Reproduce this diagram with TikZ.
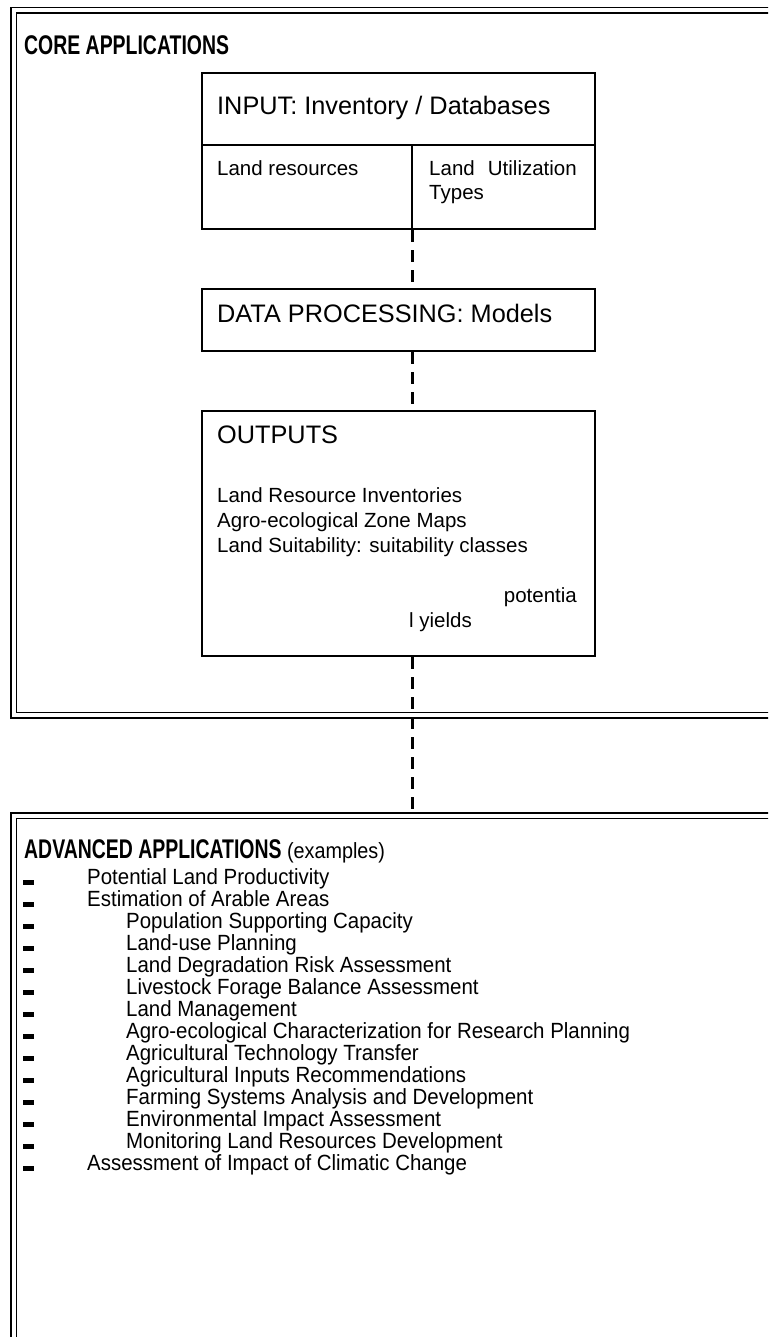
\documentclass[tikz,border=0pt]{standalone}
\usepackage{fontspec}
\setmainfont{Liberation Sans}
\newfontfamily\narrowsans[FakeStretch=0.72]{Liberation Sans}
\newfontfamily\listsans[FakeStretch=0.93]{Liberation Sans}
\newfontfamily\exsans[FakeStretch=0.9]{Liberation Sans}
\usetikzlibrary{calc}
\begin{document}
\begin{tikzpicture}[x=1pt,y=-1pt,
  frameline/.style={draw=black,line width=1.8pt},
  boxnode/.style={draw=black,line width=2.4pt,inner sep=0pt,anchor=north west},
  conn/.style={draw=black,line width=3pt,dash pattern=on 12pt off 8pt},
  head/.style={inner sep=0pt,anchor=base west,font=\fontsize{25.3}{29}\selectfont},
  body/.style={inner sep=0pt,anchor=base west,font=\fontsize{20.5}{24}\selectfont},
  title/.style={inner sep=0pt,anchor=base west,font=\narrowsans\fontsize{27}{31}\selectfont\bfseries},
  item/.style={inner sep=0pt,anchor=base west,font=\listsans\fontsize{22}{26}\selectfont},
  bul/.style={fill=black,inner sep=0pt,minimum width=11pt,minimum height=5pt,anchor=south west}
]
\useasboundingbox (0,0) rectangle (768,1337);
\clip (0,0) rectangle (768,1337);
% frames
\draw[frameline] (11,7.5) rectangle (800,718);
\draw[frameline] (16.5,13) rectangle (795,712.5);
\draw[frameline] (11,813) rectangle (800,1400);
\draw[frameline] (16.5,818.5) rectangle (795,1395);
% titles
\node[title] (coretitle) at (24,55) {CORE APPLICATIONS};
\node[title] (advtitle) at (24,858) {ADVANCED APPLICATIONS};
\node[inner sep=0pt,anchor=base west,font=\exsans\fontsize{22}{25}\selectfont] (examples) at ([xshift=5pt]advtitle.base east) {(examples)};
% boxes
\node[boxnode,minimum width=393pt,minimum height=156pt] (input) at (201,72) {};
\node[boxnode,minimum width=393pt,minimum height=62pt] (data) at (201,288) {};
\node[boxnode,minimum width=393pt,minimum height=245pt] (outputs) at (201,410) {};
\coordinate (divx) at (412,145);
\draw[line width=2.4pt] (input.west |- divx) -- (input.east |- divx);
\draw[line width=2.4pt] (divx) -- (divx |- input.south);
% texts
\node[head] (t1) at (217,115) {INPUT: Inventory / Databases};
\node[body] (t2) at (217,176) {Land resources};
\node[body] (t3) at (429,176) {Land};
\node[body,anchor=base east] (t4) at (577,176) {Utilization};
\node[body] (t5) at (429,200) {Types};
\node[head] (t6) at (217,322) {DATA PROCESSING: Models};
\node[head] (t7) at (217,443) {OUTPUTS};
\node[body] (t8) at (217,502) {Land Resource Inventories};
\node[body] (t9) at (217,527) {Agro-ecological Zone Maps};
\node[body] (t10) at (217,552) {Land Suitability: suitability classes};
\node[body,anchor=base east] (t11) at (577,602) {potentia};
\node[body] (t12) at (409,627) {l yields};
% connectors
\draw[conn] (input.south -| divx) -- (data.north -| divx);
\draw[conn] (data.south -| divx) -- (outputs.north -| divx);
\coordinate (advtop) at (412,813);
\draw[conn] (outputs.south -| divx) -- (advtop);
% list
\foreach \i/\txt/\xx in {0/Potential Land Productivity/87,
  1/Estimation of Arable Areas/87,
  2/Population Supporting Capacity/126,
  3/Land-use Planning/126,
  4/Land Degradation Risk Assessment/126,
  5/Livestock Forage Balance Assessment/126,
  6/Land Management/126,
  7/Agro-ecological Characterization for Research Planning/126,
  8/Agricultural Technology Transfer/126,
  9/Agricultural Inputs Recommendations/126,
  10/Farming Systems Analysis and Development/126,
  11/Environmental Impact Assessment/126,
  12/Monitoring Land Resources Development/126,
  13/Assessment of Impact of Climatic Change/87}{
  \node[item] (it\i) at (\xx,884+22*\i) {\txt};
  \node[bul] (b\i) at (23,885+22*\i) {};
}
\end{tikzpicture}
\end{document}
